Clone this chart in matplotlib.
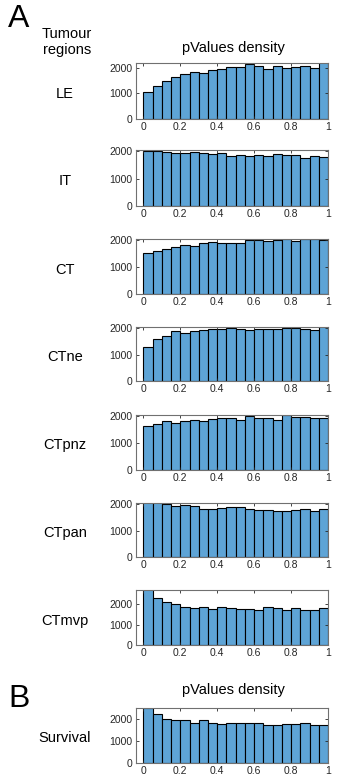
import numpy as np
import matplotlib
matplotlib.use("Agg")
import matplotlib.pyplot as plt

plt.rcParams["font.family"] = ["Liberation Sans", "DejaVu Sans"]

# Bin edges for the p-value histograms (20 bins over [0, 1])
bin_edges = np.linspace(0, 1, 21)

# Counts per bin
region_names = ["LE", "IT", "CT", "CTne", "CTpnz", "CTpan", "CTmvp"]
le_counts = [1065, 1300, 1494, 1650, 1753, 1857, 1818, 1909, 1948, 2039,
             2052, 2150, 2078, 1948, 2091, 2013, 2052, 2091, 2013, 2250]
it_counts = [2000, 1988, 1952, 1915, 1915, 1952, 1915, 1879, 1915, 1830,
             1842, 1818, 1867, 1818, 1879, 1855, 1855, 1733, 1806, 1782]
ct_counts = [1521, 1583, 1656, 1755, 1828, 1791, 1877, 1914, 1877, 1902,
             1877, 2000, 2000, 1951, 2012, 2025, 1951, 2037, 2025, 1988]
ctne_counts = [1296, 1585, 1698, 1887, 1811, 1874, 1937, 1975, 1975, 2000,
               1962, 1925, 1975, 1975, 1962, 2000, 2013, 1975, 1937, 2060]
ctpnz_counts = [1630, 1691, 1827, 1741, 1802, 1840, 1802, 1877, 1914, 1914,
                1852, 1988, 1938, 1938, 1864, 2025, 1963, 1975, 1914, 1914]
ctpan_counts = [2060, 2060, 1987, 1936, 1962, 1911, 1796, 1822, 1847, 1885,
                1885, 1809, 1783, 1771, 1745, 1745, 1771, 1809, 1745, 1809]
ctmvp_counts = [2750, 2276, 2114, 2016, 1870, 1789, 1837, 1756, 1837, 1789,
                1756, 1740, 1724, 1837, 1821, 1724, 1821, 1724, 1724, 1789]
survival_counts = [2530, 2242, 2030, 1985, 1985, 1848, 1955, 1818, 1773, 1848,
                   1818, 1848, 1818, 1712, 1727, 1758, 1788, 1818, 1742, 1742]

region_counts = [le_counts, it_counts, ct_counts, ctne_counts,
                 ctpnz_counts, ctpan_counts, ctmvp_counts]
region_ylims = [2190, 2040, 2040, 2040, 2040, 2040, 2690]

x_ticks = [0, 0.2, 0.4, 0.6, 0.8, 1]
x_tick_labels = ["0", "0.2", "0.4", "0.6", "0.8", "1"]
y_ticks = [0, 1000, 2000]

# Figure size in pixels and panel boxes (top, bottom) in pixels
W, H = 341, 778
AX_LEFT, AX_RIGHT = 136, 328
region_boxes = [(63, 119), (150, 206), (239, 294), (327, 381),
                (415, 470), (503, 557), (590, 645)]
survival_box = (708, 763)

BAR_COLOR = "#5ea4d6"
AXIS_COLOR = "#262626"


def draw_hist(fig, box, counts, ytop, label):
    top, bottom = box
    ax = fig.add_axes([AX_LEFT / W, 1 - bottom / H,
                       (AX_RIGHT - AX_LEFT) / W, (bottom - top) / H])
    ax.bar(bin_edges[:-1], counts, width=np.diff(bin_edges), align="edge",
           color=BAR_COLOR, edgecolor="black", linewidth=0.8)
    ax.set_xlim(-0.04, 1.0)
    ax.set_ylim(0, ytop)
    ax.set_xticks(x_ticks)
    ax.set_xticklabels(x_tick_labels)
    ax.set_yticks(y_ticks)
    ax.tick_params(direction="in", top=True, right=True, length=2,
                   width=0.6, labelsize=7.5, colors=AXIS_COLOR, pad=2.5)
    for spine in ax.spines.values():
        spine.set_color("#707070")
        spine.set_linewidth(0.8)
    # Region label to the left of the panel
    fig.text(65 / W, 1 - ((top + bottom) / 2 + 3) / H, label,
             fontsize=10.5, ha="center", va="center")
    return ax


fig = plt.figure(figsize=(W / 100, H / 100), dpi=100)

fig.text(8 / W, 1 - 19 / H, "A", fontsize=23, ha="left", va="center")
fig.text(67 / W, 1 - 42 / H, "Tumour\nregions", fontsize=10.5, ha="center",
         va="center", linespacing=1.2)
fig.text(233 / W, 1 - 48 / H, "pValues density", fontsize=10.5,
         ha="center", va="center")

for name, counts, ytop, box in zip(region_names, region_counts,
                                   region_ylims, region_boxes):
    draw_hist(fig, box, counts, ytop, name)

fig.text(8 / W, 1 - 699 / H, "B", fontsize=23, ha="left", va="center")
fig.text(233 / W, 1 - 690 / H, "pValues density", fontsize=10.5,
         ha="center", va="center")
draw_hist(fig, survival_box, survival_counts, 2510, "Survival")

fig.savefig("out.png", dpi=100)
